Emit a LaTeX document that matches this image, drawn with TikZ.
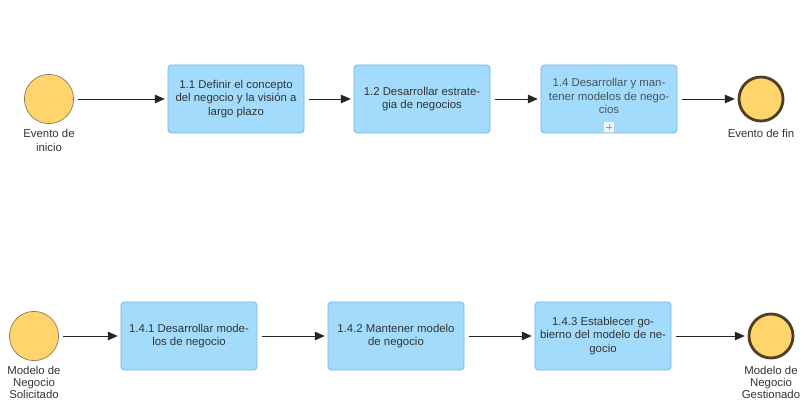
\documentclass[tikz,border=0pt]{standalone}
\usepackage{fontspec}
\setmainfont{Liberation Sans}
\usetikzlibrary{arrows.meta}
\definecolor{taskfill}{HTML}{A3DBFD}
\definecolor{taskline}{HTML}{7DB6E2}
\definecolor{eventfill}{HTML}{FFD46C}
\definecolor{eventline}{HTML}{8A7A5A}
\definecolor{endline}{HTML}{4F3F22}
\definecolor{textgray}{HTML}{333333}
\begin{document}
\begin{tikzpicture}[x=0.025cm, y=-0.025cm,
    font=\fontsize{8.1}{9.6}\selectfont, text=textgray,
    task/.style={rectangle, rounded corners=2.5pt, draw=taskline, fill=taskfill, line width=0.6pt,
        minimum width=3.4cm, minimum height=1.7cm, align=center, inner sep=1pt},
    startevent/.style={circle, draw=eventline, fill=eventfill, line width=0.5pt, minimum size=1.23cm, inner sep=0pt},
    endevent/.style={circle, draw=endline, fill=eventfill, line width=2pt, minimum size=1.1cm, inner sep=0pt},
    evlabel/.style={align=center, inner sep=0pt, anchor=north},
    flow/.style={-{Triangle[length=7pt, width=6pt]}, draw=black!85, line width=0.7pt, shorten <=3pt, shorten >=2pt}]
    \useasboundingbox (0,0) rectangle (807,400);

    % Top process
    \node[startevent] (start) at (49,99) {};
    \node[evlabel] (startlbl) at (49,129) {Evento de\\inicio};
    \node[task] (t11) at (236,99) {1.1 Definir el concepto\\del negocio y la visión a\\largo plazo};
    \node[task] (t12) at (422,99) {1.2 Desarrollar estrate-\\gia de negocios};
    \node[task] (t14) at (609,99) {};
    \node[align=center, text=textgray!75!taskline] (t14txt) at (609,96) {1.4 Desarrollar y man-\\tener modelos de nego-\\cios};
    % collapsed sub-process marker
    \node[draw=taskline!60, fill=white!80!taskfill, minimum size=0.27cm, inner sep=0pt] (t14plus) at (609,127) {};
    \draw[gray!80, line width=0.6pt] ([xshift=-2.3pt]t14plus.center) -- ([xshift=2.3pt]t14plus.center);
    \draw[gray!80, line width=0.6pt] ([yshift=-2.3pt]t14plus.center) -- ([yshift=2.3pt]t14plus.center);
    \node[endevent] (end) at (761,99) {};
    \node[evlabel] (endlbl) at (761,129) {Evento de fin};

    \draw[flow] (start) -- (t11);
    \draw[flow] (t11) -- (t12);
    \draw[flow] (t12) -- (t14);
    \draw[flow] (t14) -- (end);

    % Sub-process 1.4
    \node[startevent] (substart) at (34,336) {};
    \node[evlabel, font=\fontsize{8.1}{8.6}\selectfont] (substartlbl) at (34,366) {Modelo de\\Negocio\\Solicitado};
    \node[task] (t141) at (189,336) {1.4.1 Desarrollar mode-\\los de negocio};
    \node[task] (t142) at (396,336) {1.4.2 Mantener modelo\\de negocio};
    \node[task] (t143) at (603,336) {1.4.3 Establecer go-\\bierno del modelo de ne-\\gocio};
    \node[endevent] (subend) at (771,336) {};
    \node[evlabel, font=\fontsize{8.1}{8.6}\selectfont] (subendlbl) at (771,366) {Modelo de\\Negocio\\Gestionado};

    \draw[flow] (substart) -- (t141);
    \draw[flow] (t141) -- (t142);
    \draw[flow] (t142) -- (t143);
    \draw[flow] (t143) -- (subend);

\end{tikzpicture}
\end{document}
